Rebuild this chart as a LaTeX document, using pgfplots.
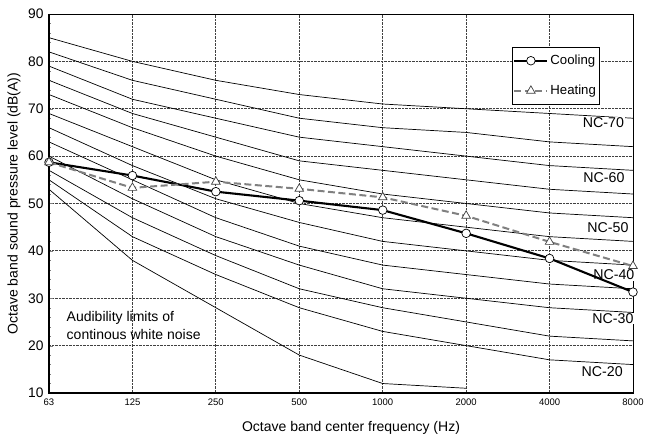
\documentclass[border=0pt]{standalone}
\usepackage{fontspec}
\setmainfont{Liberation Sans}
\usepackage{pgfplots}
\usepackage{pgfplotstable}
\pgfplotsset{compat=1.18}

\pgfplotstableread{
x nca ncb ncc ncd nce ncf ncg nch nci ncj nck
0 85 82 79 76 73 69 66 63 60 57 55
1 80 76 72 69 66 62 58 55 51 47 43
2 76 72 68 64 60 55 51 47 43 39 35
3 73 68 64 59 55 50 46 41 37 32 28
4 71 66 62 57 52 47 42 37 32 28 23
5 70 65 60 55 50 45 40 35 30 25 20
6 69 63 58 53 48 43 38 33 28 22 17
7 68 62 57 52 47 42 37 32 27 21 16
}\nctable

\pgfplotstableread{
x y
0 53
1 38
2 28
3 18
4 12
5 11
}\audtable

\pgfplotstableread{
x y
0 58.7
1 55.9
2 52.5
3 50.6
4 48.6
5 43.7
6 38.4
7 31.3
}\cooltable

\pgfplotstableread{
x y
0 58.7
1 53.3
2 54.6
3 53.1
4 51.3
5 47.4
6 41.9
7 36.8
}\heattable

\definecolor{heatgray}{RGB}{128,128,128}

\begin{document}
\begin{tikzpicture}
\begin{axis}[
  name=ax,
  width=584pt, height=379pt, scale only axis,
  xmin=0, xmax=7, ymin=10, ymax=90,
  clip=false,
  xtick={0,...,7},
  xticklabels={63,125,250,500,1000,2000,4000,8000},
  ytick={10,20,...,90},
  minor y tick num=4,
  tick align=inside,
  ytick pos=left, xtick pos=bottom,
  major tick length=4pt, minor tick length=2.5pt,
  xtick style={/pgfplots/major tick length=0pt},
  grid=major,
  major grid style={densely dotted, black!75, line width=0.75pt},
  axis line style={line width=0.6pt},
  /pgf/number format/assume math mode=true,
  yticklabel style={font=\fontsize{13.8}{15}\selectfont, xshift=-2pt},
  xticklabel style={font=\fontsize{9.5}{11}\selectfont, yshift=-2pt},
  every axis x label/.style={at={(axis description cs:0.5,0)}, anchor=center, yshift=-35pt, xshift=10pt, font=\fontsize{14}{16}\selectfont},
  every axis y label/.style={at={(axis description cs:0,0.5)}, anchor=center, xshift=-35pt, rotate=90, font=\fontsize{14}{16}\selectfont},
  xlabel={Octave band center frequency (Hz)},
  ylabel={Octave band sound pressure level (dB(A))},
  legend style={at={(axis cs:5.55,83.9)}, anchor=north west, yshift=-4pt, draw=black, line width=0.6pt,
    font=\fontsize{13.2}{15}\selectfont, row sep=15pt, inner xsep=1pt, inner ysep=6pt,
    cells={anchor=west}},
  legend image code/.code={\draw[mark repeat=2,mark phase=2,#1] plot coordinates {(0pt,0pt) (16.5pt,0pt) (33pt,0pt)};},
]
\addplot[black, line width=0.7pt, forget plot] table[x=x,y=nca] {\nctable};
\addplot[black, line width=0.7pt, forget plot] table[x=x,y=ncb] {\nctable};
\addplot[black, line width=0.7pt, forget plot] table[x=x,y=ncc] {\nctable};
\addplot[black, line width=0.7pt, forget plot] table[x=x,y=ncd] {\nctable};
\addplot[black, line width=0.7pt, forget plot] table[x=x,y=nce] {\nctable};
\addplot[black, line width=0.7pt, forget plot] table[x=x,y=ncf] {\nctable};
\addplot[black, line width=0.7pt, forget plot] table[x=x,y=ncg] {\nctable};
\addplot[black, line width=0.7pt, forget plot] table[x=x,y=nch] {\nctable};
\addplot[black, line width=0.7pt, forget plot] table[x=x,y=nci] {\nctable};
\addplot[black, line width=0.7pt, forget plot] table[x=x,y=ncj] {\nctable};
\addplot[black, line width=0.7pt, forget plot] table[x=x,y=nck] {\nctable};
\addplot[black, line width=0.7pt, forget plot] table[x=x,y=y] {\audtable};

\node[fill=white, inner sep=0.8pt, font=\fontsize{14.2}{16}\selectfont] at (axis cs:6.645,67.0) {NC-70};
\node[fill=white, inner sep=0.8pt, font=\fontsize{14.2}{16}\selectfont] at (axis cs:6.651,55.4) {NC-60};
\node[fill=white, inner sep=0.8pt, font=\fontsize{14.2}{16}\selectfont] at (axis cs:6.70,44.9) {NC-50};
\node[fill=white, inner sep=0.8pt, font=\fontsize{14.2}{16}\selectfont] at (axis cs:6.77,34.9) {NC-40};
\node[fill=white, inner sep=0.8pt, font=\fontsize{14.2}{16}\selectfont] at (axis cs:6.76,25.7) {NC-30};
\node[fill=white, inner sep=0.8pt, font=\fontsize{14.2}{16}\selectfont] at (axis cs:6.63,14.5) {NC-20};
\node[anchor=west, align=left, font=\fontsize{14}{18}\selectfont] at (axis cs:0.17,24.2) {Audibility limits of\\continous white noise};

\addplot[black, line width=2.1pt, mark=*, mark size=4.3pt, mark options={fill=white, solid, line width=0.7pt}] table[x=x,y=y] {\cooltable};
\addlegendentry{Cooling}
\addplot[heatgray, line width=2pt, dash pattern=on 7pt off 3.5pt, mark=triangle*, mark size=5pt, mark options={fill=white, draw=black!75, solid, line width=0.7pt}] table[x=x,y=y] {\heattable};
\addlegendentry{Heating}

\draw[line width=1.4pt] (rel axis cs:0,1) -- (rel axis cs:0,0) -- (rel axis cs:1,0);
\end{axis}
\pgfresetboundingbox
\path[use as bounding box] ([shift={(-49pt,-47pt)}]ax.south west) rectangle ([shift={(12pt,14pt)}]ax.north east);
\end{tikzpicture}
\end{document}
